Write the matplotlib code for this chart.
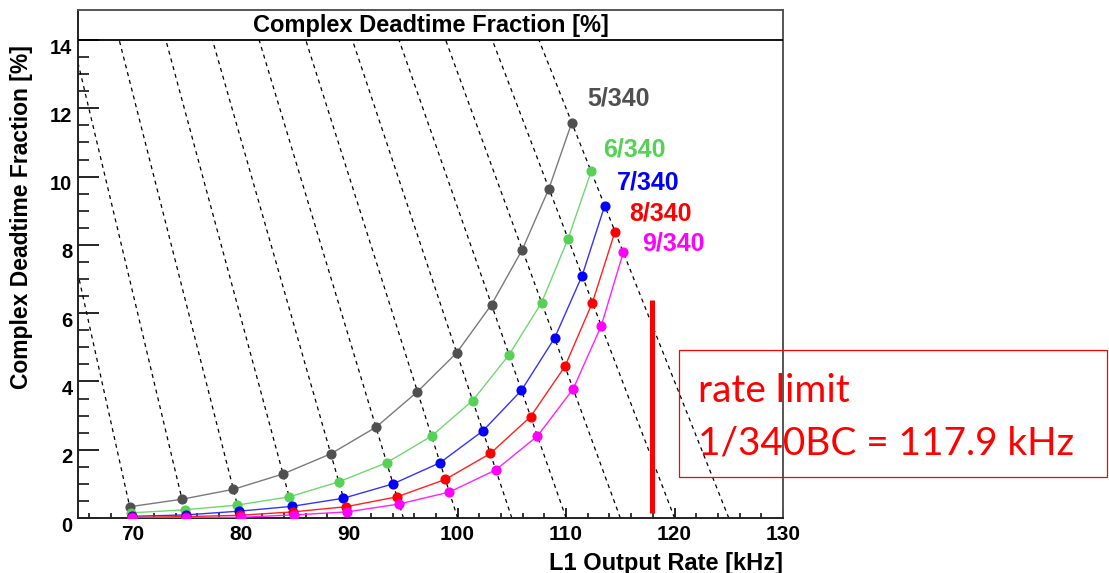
import numpy as np
import matplotlib
matplotlib.use('Agg')
import matplotlib.pyplot as plt
from matplotlib.patches import Rectangle
from matplotlib.ticker import FixedLocator
from matplotlib.transforms import ScaledTranslation

# ---------------- data ----------------
input_rates = [70, 75, 80, 85, 90, 95, 100, 105, 110, 115, 120, 125]   # kHz (iso-input dashed lines)
series_labels = ['5/340', '6/340', '7/340', '8/340', '9/340']
dt_5_340 = [0.33, 0.55, 0.84, 1.29, 1.88, 2.66, 3.70, 4.84, 6.25, 7.86, 9.65, 11.58]
dt_6_340 = [0.15, 0.24, 0.38, 0.62, 1.06, 1.62, 2.40, 3.44, 4.78, 6.31, 8.18, 10.15]
dt_7_340 = [0.05, 0.09, 0.20, 0.34, 0.58, 1.00, 1.62, 2.55, 3.74, 5.27, 7.10, 9.15]
dt_8_340 = [0.02, 0.04, 0.08, 0.18, 0.33, 0.62, 1.13, 1.89, 2.97, 4.44, 6.31, 8.39]
dt_9_340 = [0.00, 0.01, 0.02, 0.09, 0.18, 0.41, 0.76, 1.41, 2.40, 3.78, 5.63, 7.78]
series_dt = [dt_5_340, dt_6_340, dt_7_340, dt_8_340, dt_9_340]
rate_limit = 117.9
x_ticks = [70, 80, 90, 100, 110, 120, 130]
y_ticks = [0, 2, 4, 6, 8, 10, 12, 14]

# ---------------- style ----------------
marker_colors = ['#505050', '#55d155', '#0000ff', '#ff0000', '#ff00ff']
line_colors = ['#7a7a7a', '#6fd86f', '#3333ff', '#ff2020', '#ff20ff']
label_pos = [(114.8, 12.30), (116.3, 10.78), (117.6, 9.84), (118.7, 8.93), (119.9, 8.03)]

plt.rcParams['font.family'] = ['Liberation Sans', 'DejaVu Sans']

W, H = 1109, 573
fig = plt.figure(figsize=(W / 100, H / 100), dpi=100)
ax = fig.add_axes([78 / W, 1 - 518 / H, (783 - 78) / W, (518 - 10) / H])
ax.set_xlim(65, 130)
ax.set_ylim(0, 14.88)

# iso-input-rate dashed lines: out = in * (1 - DT)
dt_grid = np.linspace(0, 14, 200)
for r in input_rates:
    ax.plot(r * (1 - dt_grid / 100), dt_grid, color='black', lw=0.9,
            dashes=(3.2, 3.2), zorder=2)

# series
for dts, mc, lc, lab, pos in zip(series_dt, marker_colors, line_colors,
                                  series_labels, label_pos):
    dts = np.array(dts)
    xo = np.array(input_rates) * (1 - dts / 100)
    ax.plot(xo, dts, color=lc, lw=1.0, zorder=3)
    ax.plot(xo, dts, 'o', color=mc, ms=6.3, mec=mc, zorder=4)
    ax.text(pos[0], pos[1], lab, color=mc, fontsize=18, fontweight='bold',
            ha='center', va='center', zorder=5)

# title box inside frame
ax.axhline(14, color='black', lw=1.3, zorder=6)
ax.text(0.5 * (65 + 130), 14.42, 'Complex Deadtime Fraction [%]', ha='center',
        va='center', fontsize=17, fontweight='bold', zorder=7)

# rate limit bar
ax.plot([rate_limit, rate_limit], [0.15, 6.4], color='#ff0000', lw=3.6,
        solid_capstyle='butt', zorder=5)

# axes styling
for s in ax.spines.values():
    s.set_color('#555555')
    s.set_linewidth(1.4)
ax.spines['left'].set_color('#222222')
ax.spines['bottom'].set_color('#222222')

ax.set_xticks(x_ticks)
ax.set_yticks(y_ticks)
ax.xaxis.set_minor_locator(FixedLocator(np.arange(66, 130, 2)))
ax.yaxis.set_minor_locator(FixedLocator(np.arange(0.5, 14, 0.5)))
ax.tick_params(axis='x', which='major', direction='in', length=7, width=1.2,
               pad=5, labelsize=15)
ax.tick_params(axis='x', which='minor', direction='in', length=3.6, width=1.1)
ax.tick_params(axis='y', which='major', direction='in', length=15, width=1.2,
               pad=4, labelsize=14.5)
ax.tick_params(axis='y', which='minor', direction='in', length=7.7, width=1.1)
shift = ScaledTranslation(0, -6 / 100, fig.dpi_scale_trans)
for lab in ax.get_xticklabels():
    lab.set_fontweight('bold')
for lab in ax.get_yticklabels():
    lab.set_fontweight('bold')
    lab.set_transform(lab.get_transform() + shift)

fig.text(783 / W, 1 - 552 / H, 'L1 Output Rate [kHz]', ha='right', va='top',
         fontsize=17, fontweight='bold')
fig.text(22 / W, 1 - 45 / H, 'Complex Deadtime Fraction [%]', rotation=90,
         rotation_mode='anchor', ha='right', va='center', fontsize=16.5,
         fontweight='bold')

# red annotation box
fig.patches.append(Rectangle((679 / W, 1 - 477 / H), (1107 - 679) / W,
                             (477 - 350) / H, transform=fig.transFigure,
                             fill=False, edgecolor='#ff0000', lw=0.9))
fig.text(698 / W, 1 - 402 / H, 'rate limit', color='#ff0000', fontsize=27.9,
         family=['Lato', 'DejaVu Sans'], ha='left', va='baseline')
fig.text(698 / W, 1 - 455 / H, '1/340BC = 117.9 kHz', color='#ff0000',
         fontsize=27.9, family=['Lato', 'DejaVu Sans'], ha='left', va='baseline')

fig.savefig('out.png', dpi=100)
